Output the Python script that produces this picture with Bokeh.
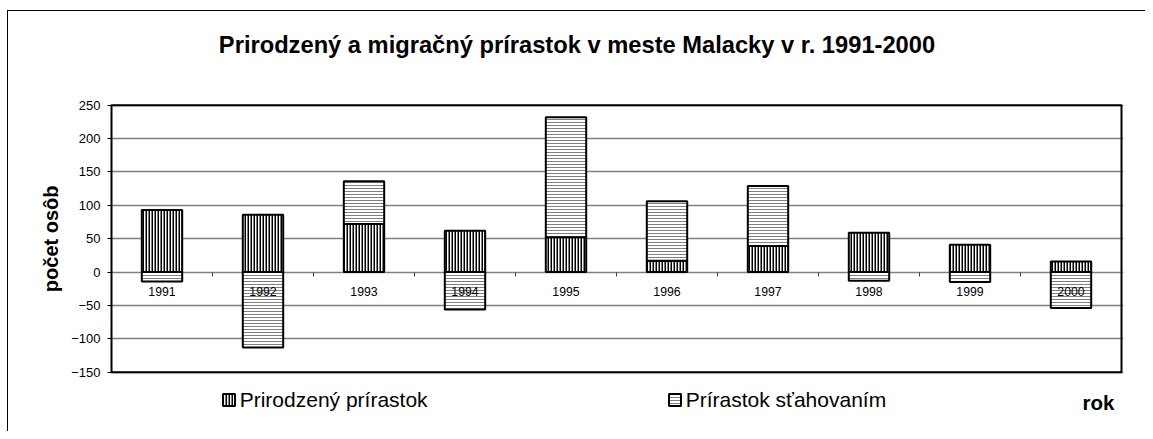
import numpy as np
from bokeh.plotting import figure
from bokeh.models import (ColumnDataSource, Range1d, LinearAxis, FixedTicker,
                          Legend, LegendItem, Label, Title)
from bokeh.embed import file_html
from bokeh.resources import INLINE

# ---- data ----
years = ["1991", "1992", "1993", "1994", "1995", "1996", "1997", "1998", "1999", "2000"]
natural = [93, 86, 72, 62, 52, 17, 39, 59, 41, 16]
migration = [-14, -113, 64, -56, 180, 89, 90, -13, -15, -54]
y_ticks = [-150, -100, -50, 0, 50, 100, 150, 200, 250]
title_text = "Prirodzený a migračný prírastok v meste Malacky v r. 1991-2000"
y_label = "počet osôb"
x_label = "rok"
series_names = ["Prirodzený prírastok", "Prírastok sťahovaním"]

FONT = "Liberation Sans"

# ---- layout (pixels) ----
W, H = 1145, 431
FRAME_L, FRAME_R = 109, 1123          # frame spans full height of the canvas
PLOT_L, PLOT_R = 111, 1121            # plot-area box inside the frame
PLOT_T, PLOT_B = 104.7, 371.7         # pixel rows of y=250 and y=-150

n = len(years)
centers = [i + 0.5 for i in range(n)]
bounds = list(range(1, n))

ux = n / (PLOT_R - PLOT_L)                     # data units per px (x)
x_range = Range1d(-(PLOT_L - FRAME_L) * ux, n + (FRAME_R - PLOT_R) * ux)
y_hi, y_lo = max(y_ticks), min(y_ticks)
uy = (y_hi - y_lo) / (PLOT_B - PLOT_T)         # data units per px (y)
y_range = Range1d(y_lo - (H - PLOT_B) * uy, y_hi + PLOT_T * uy)

# Excel-style stacking: positives stack upward, negatives downward
nat = np.array(natural, dtype=float)
mig = np.array(migration, dtype=float)
nat_bottom = np.zeros_like(nat)
nat_top = nat
pos_base = np.where(nat > 0, nat, 0)
neg_base = np.where(nat < 0, nat, 0)
mig_bottom = np.where(mig >= 0, pos_base, neg_base)
mig_top = mig_bottom + mig

src = ColumnDataSource(dict(x=centers, nb=nat_bottom, nt=nat_top, mb=mig_bottom, mt=mig_top))
area_src = ColumnDataSource(dict(x=[n / 2], w=[n], b=[y_lo], t=[y_hi]))

p = figure(width=W, height=H, x_range=x_range, y_range=y_range,
           output_backend="svg", toolbar_location=None,
           min_border_left=FRAME_L, min_border_right=W - FRAME_R,
           min_border_top=0, min_border_bottom=0)
p.title.text = ""
p.title.visible = False
p.background_fill_color = None
p.border_fill_color = None
p.outline_line_color = None
# outer chart-area border (left and top edges visible in the window)
p.styles = {"background": "linear-gradient(#000,#000) 7px 10px / 1px 100% no-repeat, "
                          "linear-gradient(#000,#000) 7px 10px / 100% 1px no-repeat, #fff"}

# y axis
yax = p.yaxis[0]
yax.ticker = FixedTicker(ticks=y_ticks)
yax.major_label_text_font = FONT
yax.major_label_text_font_size = "13px"
yax.major_label_text_color = "black"
yax.major_tick_in = PLOT_L - FRAME_L
yax.major_tick_out = 2
yax.major_tick_line_color = "black"
yax.minor_tick_line_color = None
yax.axis_line_color = None
yax.major_label_standoff = 7

# y-axis title (placed as a side title so it centres on the plot area)
p.add_layout(Title(text=y_label, align="right", offset=185, standoff=13,
                   text_font=FONT, text_font_size="20px", text_font_style="bold",
                   text_color="black"), "left")

# grid
p.xgrid.visible = False
p.ygrid.ticker = FixedTicker(ticks=y_ticks)
p.ygrid.grid_line_color = "#808080"
p.ygrid.grid_line_width = 1.5

# plot-area border (transparent box spanning all categories and the y scale)
p.vbar(x="x", width="w", bottom="b", top="t", source=area_src,
       fill_color="white", fill_alpha=0, line_color="black", line_width=2)

# category labels on the zero line
xax = p.xaxis[0]
xax.ticker = FixedTicker(ticks=centers)
xax.major_label_overrides = {c: y for c, y in zip(centers, years)}
xax.fixed_location = 0
xax.major_tick_line_color = None
xax.minor_tick_line_color = None
xax.axis_line_color = None
xax.major_label_text_font = FONT
xax.major_label_text_font_size = "12.3px"
xax.major_label_text_color = "black"
xax.major_label_standoff = 9

# boundary ticks between categories on the zero line
tick_axis = LinearAxis(ticker=FixedTicker(ticks=bounds),
                       fixed_location=0, major_tick_in=0, major_tick_out=4,
                       major_tick_line_color="#404040", minor_tick_line_color=None,
                       axis_line_color=None, major_label_text_color=None,
                       major_label_text_font_size="1px")
p.add_layout(tick_axis, "below")

# bars
r_nat = p.vbar(x="x", bottom="nb", top="nt", width=0.4, source=src,
               fill_color="white", line_color="black", line_width=2,
               hatch_pattern="vertical_line", hatch_color="black",
               hatch_scale=3, hatch_weight=2)
r_mig = p.vbar(x="x", bottom="mb", top="mt", width=0.4, source=src,
               fill_color="white", line_color="black", line_width=2,
               hatch_pattern="horizontal_line", hatch_color="#808080",
               hatch_scale=3, hatch_weight=1)

def make_legend(label, rend, x):
    return Legend(items=[LegendItem(label=label, renderers=[rend])],
                  location=(x, H - 411.5), orientation="horizontal",
                  padding=0, margin=0, spacing=0,
                  border_line_color=None, background_fill_alpha=0,
                  glyph_width=15, glyph_height=15, label_standoff=4,
                  label_text_font=FONT, label_text_font_size="21px",
                  label_text_color="black", label_height=20)

p.add_layout(make_legend(series_names[0], r_nat, 220.7 - FRAME_L))
p.add_layout(make_legend(series_names[1], r_mig, 666.7 - FRAME_L))

# chart title
p.add_layout(Label(x=576.5 - FRAME_L, y=H - 44.5, x_units="screen", y_units="screen",
                   text=title_text, text_align="center", text_baseline="middle",
                   text_font=FONT, text_font_size="23.7px", text_font_style="bold",
                   text_color="black"))
# category-axis title
p.add_layout(Label(x=1098 - FRAME_L, y=H - 402, x_units="screen", y_units="screen",
                   text=x_label, text_align="center", text_baseline="middle",
                   text_font=FONT, text_font_size="20.5px", text_font_style="bold",
                   text_color="black"))

open("out.html", "w").write(file_html(p, INLINE))
